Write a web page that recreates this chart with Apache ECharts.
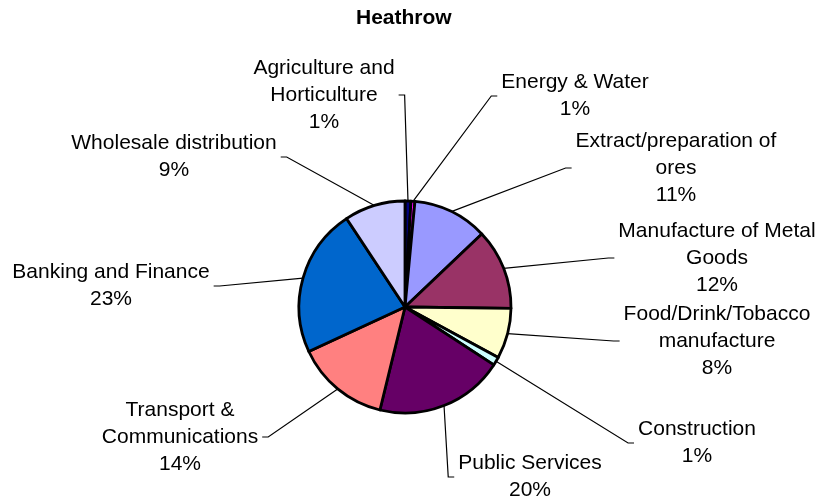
<!DOCTYPE html>
<html>
<head>
<meta charset="utf-8">
<script src="https://cdn.jsdelivr.net/npm/echarts@6/dist/echarts.min.js"></script>
<style>
  html, body { margin: 0; padding: 0; background: #ffffff; }
  #chart { width: 820px; height: 501px; }
</style>
</head>
<body>
<div id="chart"></div>
<script>
// ---- data ----
var categories = [
  'Agriculture and\nHorticulture',
  'Energy & Water',
  'Extract/preparation of\nores',
  'Manufacture of Metal\nGoods',
  'Food/Drink/Tobacco\nmanufacture',
  'Construction',
  'Public Services',
  'Transport &\nCommunications',
  'Banking and Finance',
  'Wholesale distribution'
];
var shares = [0.9, 0.6, 11.4, 12.3, 7.7, 1.3, 19.6, 14.3, 22.6, 9.3];
var sliceColors = ['#000080', '#FF00FF', '#9999FF', '#993366', '#FFFFCC',
                   '#CCFFFF', '#660066', '#FF8080', '#0066CC', '#CCCCFF'];
var chartTitle = 'Heathrow';

// ---- layout (label block centres, px) ----
var PIE_CX = 405, PIE_CY = 307, PIE_R = 106;
var labelAnchor = [
  [324, 95], [575, 96], [676, 168], [717, 258], [717, 341],
  [697, 443], [530, 477], [180, 437], [111, 286], [174, 157]
];

var total = shares.reduce(function (a, b) { return a + b; }, 0);
var midAngles = [];
(function () {
  var acc = 0;
  for (var i = 0; i < shares.length; i++) {
    midAngles.push((acc + shares[i] / 2) / total * 2 * Math.PI);
    acc += shares[i];
  }
})();

var chart = echarts.init(document.getElementById('chart'), null, { renderer: 'canvas' });
chart.setOption({
  backgroundColor: '#ffffff',
  animation: false,
  title: {
    text: chartTitle,
    left: 356,
    top: 8,
    padding: 0,
    textStyle: { fontFamily: 'Liberation Sans', fontWeight: 'bold', fontSize: 21, color: '#000' }
  },
  series: [{
    type: 'pie',
    center: [PIE_CX, PIE_CY],
    radius: PIE_R,
    startAngle: 90,
    clockwise: true,
    avoidLabelOverlap: false,
    itemStyle: { borderColor: '#000', borderWidth: 2.8 },
    label: {
      show: true,
      position: 'outside',
      fontFamily: 'Liberation Sans',
      fontSize: 21,
      lineHeight: 27,
      color: '#000',
      align: 'center',
      formatter: function (p) { return p.name + '\n' + Math.round(p.percent) + '%'; }
    },
    labelLine: { show: true, length: 10, length2: 10, smooth: false, lineStyle: { color: '#000', width: 1.2 } },
    labelLayout: function (p) {
      var i = p.dataIndex;
      var a = labelAnchor[i];
      var r = p.labelRect;
      var right = a[0] > PIE_CX;
      var y = a[1];
      var end = right ? a[0] - r.width / 2 - 4 : a[0] + r.width / 2 + 4;
      var elbow = right ? end - 6 : end + 6;
      var m = midAngles[i];
      var p0 = [PIE_CX + PIE_R * Math.sin(m), PIE_CY - PIE_R * Math.cos(m)];
      return {
        x: a[0], y: a[1], align: 'center', verticalAlign: 'middle',
        labelLinePoints: [p0, [elbow, y], [end, y]]
      };
    },
    emphasis: { disabled: true },
    data: categories.map(function (c, i) {
      return { name: c, value: shares[i], itemStyle: { color: sliceColors[i] } };
    })
  }]
});
</script>
</body>
</html>
